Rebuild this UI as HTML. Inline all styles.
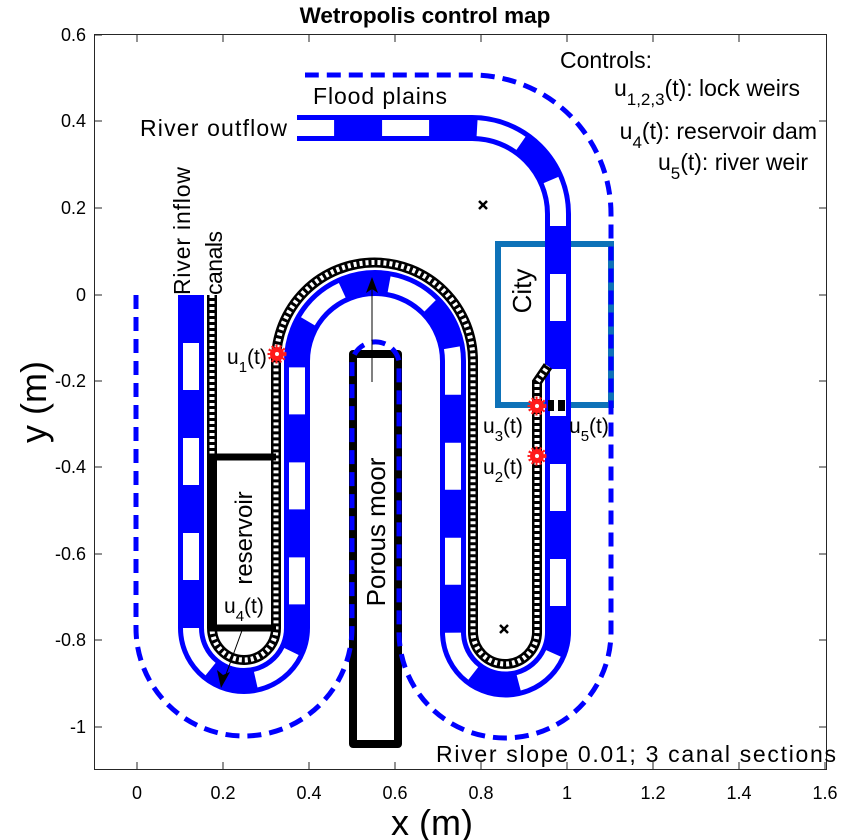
<!DOCTYPE html>
<html><head><meta charset="utf-8"><style>
html,body{margin:0;padding:0;background:#fff}
svg{display:block}
text{font-family:"Liberation Sans",sans-serif;fill:#000}
</style></head><body>
<svg width="848" height="840" viewBox="0 0 848 840" xmlns="http://www.w3.org/2000/svg">
<rect width="848" height="840" fill="#fff"/>
<text x="425" y="23" font-size="22.5" font-weight="bold" text-anchor="middle">Wetropolis control map</text>
<!-- axes -->
<rect x="94.5" y="34.5" width="732" height="735" fill="none" stroke="#262626" stroke-width="1"/>
<g stroke="#262626" stroke-width="1">
<line x1="137" y1="769" x2="137" y2="762"/><line x1="223" y1="769" x2="223" y2="762"/><line x1="309" y1="769" x2="309" y2="762"/><line x1="395" y1="769" x2="395" y2="762"/><line x1="481" y1="769" x2="481" y2="762"/><line x1="567" y1="769" x2="567" y2="762"/><line x1="653" y1="769" x2="653" y2="762"/><line x1="739" y1="769" x2="739" y2="762"/><line x1="825" y1="769" x2="825" y2="762"/>
<line x1="137" y1="35" x2="137" y2="42"/><line x1="223" y1="35" x2="223" y2="42"/><line x1="309" y1="35" x2="309" y2="42"/><line x1="395" y1="35" x2="395" y2="42"/><line x1="481" y1="35" x2="481" y2="42"/><line x1="567" y1="35" x2="567" y2="42"/><line x1="653" y1="35" x2="653" y2="42"/><line x1="739" y1="35" x2="739" y2="42"/>
<line x1="95" y1="35" x2="102" y2="35"/><line x1="95" y1="121" x2="102" y2="121"/><line x1="95" y1="208" x2="102" y2="208"/><line x1="95" y1="295" x2="102" y2="295"/><line x1="95" y1="381" x2="102" y2="381"/><line x1="95" y1="467" x2="102" y2="467"/><line x1="95" y1="554" x2="102" y2="554"/><line x1="95" y1="640" x2="102" y2="640"/><line x1="95" y1="727" x2="102" y2="727"/>
<line x1="826" y1="121" x2="819" y2="121"/><line x1="826" y1="208" x2="819" y2="208"/><line x1="826" y1="295" x2="819" y2="295"/><line x1="826" y1="381" x2="819" y2="381"/><line x1="826" y1="467" x2="819" y2="467"/><line x1="826" y1="554" x2="819" y2="554"/><line x1="826" y1="640" x2="819" y2="640"/><line x1="826" y1="727" x2="819" y2="727"/>
</g>
<g font-size="18" fill="#262626" text-anchor="middle">
<text x="137" y="799">0</text><text x="223" y="799">0.2</text><text x="309" y="799">0.4</text><text x="395" y="799">0.6</text><text x="481" y="799">0.8</text><text x="567" y="799">1</text><text x="653" y="799">1.2</text><text x="739" y="799">1.4</text><text x="825" y="799">1.6</text>
</g>
<g font-size="18" fill="#262626" text-anchor="end">
<text x="86" y="41">0.6</text><text x="86" y="127">0.4</text><text x="86" y="214">0.2</text><text x="86" y="301">0</text><text x="86" y="387">-0.2</text><text x="86" y="473">-0.4</text><text x="86" y="560">-0.6</text><text x="86" y="646">-0.8</text><text x="86" y="733">-1</text>
</g>
<text x="432" y="835" font-size="36" text-anchor="middle">x (m)</text>
<text transform="translate(46,402) rotate(-90)" font-size="36" text-anchor="middle">y (m)</text>

<!-- city -->
<rect x="498" y="244" width="113" height="161" fill="none" stroke="#0e72b8" stroke-width="6"/>

<!-- porous moor -->
<rect x="353" y="354" width="45" height="390" fill="#fff" stroke="#000" stroke-width="8" stroke-linejoin="round"/>

<!-- flood plain dashed -->
<path d="M136,295 L136,628 A108,108 0 0 0 352,628 L352,361 A24,24 0 0 1 399,361 L399,632 A106,106 0 0 0 611,632 L611,214 A139,139 0 0 0 472,75 L305,75" fill="none" stroke="#0000ff" stroke-width="5" stroke-dasharray="14 8"/>

<!-- river -->
<path d="M191,295 L191,628 A53,53 0 0 0 297,628 L297,361 A78,78 0 0 1 453,361 L453,632 A52.5,52.5 0 0 0 558,632 L558,214 A86,86 0 0 0 472,128 L297,128" fill="none" stroke="#0000ff" stroke-width="26"/>
<path d="M191,295 L191,628 A53,53 0 0 0 297,628 L297,361 A78,78 0 0 1 453,361 L453,632 A52.5,52.5 0 0 0 558,632 L558,214 A86,86 0 0 0 472,128 L297,128" fill="none" stroke="#fff" stroke-width="16" stroke-dasharray="47 48" stroke-dashoffset="-48"/>

<!-- canals -->
<g fill="none">
<path d="M212,295 L212,628 A32,32 0 0 0 276,628 L276,361 A97,97 0 0 1 473,361 L473,632 A32,32 0 0 0 537,632 L537,382 L548,366" stroke="#000" stroke-width="10"/>
<path d="M212,295 L212,628 A32,32 0 0 0 276,628 L276,361 A97,97 0 0 1 473,361 L473,632 A32,32 0 0 0 537,632 L537,382 L548,366" stroke="#fff" stroke-width="5" stroke-dasharray="3 3"/>
</g>

<!-- reservoir -->
<path d="M276,628 L212,628 L212,457 L276,457" fill="none" stroke="#000" stroke-width="7"/>
<rect x="217" y="461" width="54" height="163" fill="#fff"/>
<text transform="translate(252,538) rotate(-90)" font-size="24" text-anchor="middle">reservoir</text>
<text transform="translate(385,532) rotate(-90)" font-size="26" text-anchor="middle">Porous moor</text>
<text transform="translate(531,291) rotate(-90)" font-size="26" text-anchor="middle">City</text>

<!-- weir blocks -->
<rect x="548" y="400" width="6" height="11" fill="#000"/>
<rect x="558" y="400" width="7" height="11" fill="#000"/>

<!-- arrows -->
<line x1="372" y1="382" x2="372" y2="285" stroke="#000" stroke-width="1"/>
<path d="M372,277 L366,293 L372,289 L378,293 Z" fill="#000"/>
<line x1="244" y1="625" x2="224" y2="680" stroke="#000" stroke-width="1"/>
<path d="M221,688 L217,670 L223,675 L230,672 Z" fill="#000"/>

<!-- red gears -->
<g fill="#ff1a1a">
<circle cx="277" cy="354" r="7"/><circle cx="537" cy="406" r="7"/><circle cx="537" cy="456" r="7"/>
</g>
<g fill="none" stroke="#ff1a1a" stroke-width="3" stroke-dasharray="2 2">
<circle cx="277" cy="354" r="8"/><circle cx="537" cy="406" r="8"/><circle cx="537" cy="456" r="8"/>
</g>
<g fill="#fff"><circle cx="277" cy="354" r="2"/><circle cx="537" cy="406" r="2"/><circle cx="537" cy="456" r="2"/></g>

<!-- x markers -->
<g stroke="#000" stroke-width="2.5">
<line x1="479" y1="201" x2="487" y2="209"/><line x1="487" y1="201" x2="479" y2="209"/>
<line x1="500" y1="625" x2="508" y2="633"/><line x1="508" y1="625" x2="500" y2="633"/>
</g>

<!-- labels -->
<g font-size="23">
<text x="560" y="68">Controls:</text>
<text x="800" y="96" text-anchor="end">u<tspan font-size="17" dy="9">1,2,3</tspan><tspan dy="-9">(t): lock weirs</tspan></text>
<text x="817" y="139" text-anchor="end">u<tspan font-size="17" dy="9">4</tspan><tspan dy="-9">(t): reservoir dam</tspan></text>
<text x="808" y="170" text-anchor="end">u<tspan font-size="17" dy="9">5</tspan><tspan dy="-9">(t): river weir</tspan></text>
<text x="313" y="104" textLength="134">Flood plains</text>
<text x="140" y="136" textLength="147">River outflow</text>
<text x="436" y="762" textLength="400">River slope 0.01; 3 canal sections</text>
<text transform="translate(190,295) rotate(-90)" textLength="128">River inflow</text>
<text transform="translate(222,295) rotate(-90)" textLength="64">canals</text>
</g>
<g font-size="21">
<text x="227" y="364">u<tspan font-size="15" dy="8">1</tspan><tspan dy="-8">(t)</tspan></text>
<text x="483" y="433">u<tspan font-size="15" dy="8">3</tspan><tspan dy="-8">(t)</tspan></text>
<text x="569" y="433">u<tspan font-size="15" dy="8">5</tspan><tspan dy="-8">(t)</tspan></text>
<text x="483" y="474">u<tspan font-size="15" dy="8">2</tspan><tspan dy="-8">(t)</tspan></text>
<text x="224" y="613">u<tspan font-size="15" dy="8">4</tspan><tspan dy="-8">(t)</tspan></text>
</g>
</svg>
</body></html>
